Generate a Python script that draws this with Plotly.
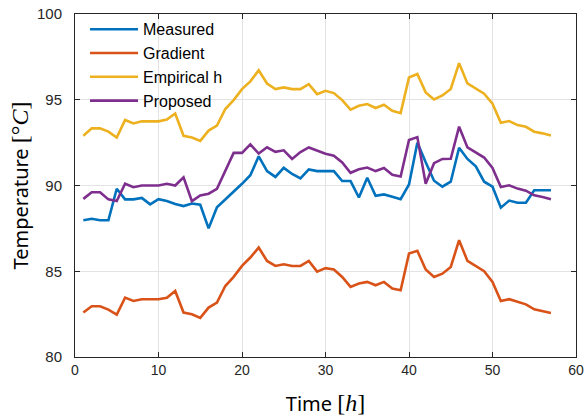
import plotly.graph_objects as go

time_h = list(range(1, 58))

measured = [87.97, 88.06, 87.97, 87.97, 89.81, 89.19, 89.19, 89.28, 88.9, 89.2,
            89.1, 88.92, 88.8, 88.95, 88.88, 87.5, 88.73, 89.17, 89.62, 90.1,
            90.6, 91.7, 90.84, 90.5, 91.03, 90.67, 90.41, 90.94, 90.84, 90.84,
            90.84, 90.26, 90.26, 89.3, 90.45, 89.4, 89.48, 89.35, 89.2, 90.06,
            92.5, 91.35, 90.28, 89.93, 90.22, 92.2, 91.55, 91.12, 90.22, 89.93,
            88.71, 89.12, 88.99, 88.99, 89.72, 89.72, 89.72]

gradient = [82.59, 82.96, 82.96, 82.76, 82.47, 83.46, 83.27, 83.37, 83.37, 83.37,
            83.46, 83.85, 82.59, 82.49, 82.28, 82.88, 83.17, 84.14, 84.67, 85.31,
            85.8, 86.38, 85.6, 85.31, 85.41, 85.31, 85.31, 85.6, 84.98, 85.18,
            85.1, 84.67, 84.09, 84.28, 84.38, 84.18, 84.38, 83.99, 83.89, 86.03,
            86.19, 85.1, 84.67, 84.86, 85.25, 86.81, 85.6, 85.29, 85.0, 84.38,
            83.27, 83.37, 83.21, 83.07, 82.78, 82.68, 82.57]

empirical = [92.9, 93.33, 93.33, 93.14, 92.8, 93.82, 93.62, 93.74, 93.74, 93.74,
             93.84, 94.2, 92.9, 92.8, 92.6, 93.2, 93.49, 94.46, 94.98, 95.62,
             96.07, 96.72, 95.95, 95.62, 95.72, 95.62, 95.62, 95.91, 95.33, 95.52,
             95.39, 94.98, 94.42, 94.65, 94.75, 94.52, 94.71, 94.36, 94.22, 96.3,
             96.5, 95.43, 95.02, 95.25, 95.63, 97.13, 95.95, 95.64, 95.35, 94.77,
             93.66, 93.76, 93.52, 93.42, 93.14, 93.04, 92.92]

proposed = [89.22, 89.61, 89.61, 89.19, 89.09, 90.1, 89.9, 90.0, 90.0, 90.0,
            90.1, 90.0, 90.48, 89.09, 89.42, 89.52, 89.81, 90.83, 91.9, 91.9,
            92.4, 91.86, 92.23, 91.96, 92.05, 91.55, 91.95, 92.22, 92.02, 91.85,
            91.74, 91.34, 90.74, 90.95, 91.05, 90.84, 91.02, 90.62, 90.52, 92.65,
            92.82, 90.1, 91.3, 91.55, 91.56, 93.43, 92.22, 91.94, 91.63, 91.02,
            89.91, 90.01, 89.82, 89.7, 89.43, 89.33, 89.2]

series = [
    ("Measured", measured, "#0072BD"),
    ("Gradient", gradient, "#D95319"),
    ("Empirical h", empirical, "#EDB120"),
    ("Proposed", proposed, "#7E2F8E"),
]

fig = go.Figure()
for name, vals, color in series:
    fig.add_trace(go.Scatter(x=time_h, y=vals, mode="lines", name=name,
                             line=dict(color=color, width=2.6)))

axis_common = dict(
    showgrid=True, gridcolor="#e3e3e3", gridwidth=1,
    showline=True, linecolor="#262626", linewidth=1, mirror="ticks",
    ticks="inside", ticklen=5, tickcolor="#262626", zeroline=False,
)

serif = "font-family:'Liberation Serif';font-size:24px"

fig.update_xaxes(range=[0, 60], dtick=10, tick0=0, **axis_common,
                 tickfont=dict(family="Liberation Sans, Arial", size=14, color="#262626"),
                 title=dict(text=f"Time <span style=\"{serif}\">[<i>h</i>]</span>",
                            font=dict(family="Noto Sans", size=20, color="#000000"),
                            standoff=20))
fig.update_yaxes(range=[80, 100], dtick=5, tick0=80, **axis_common,
                 tickfont=dict(family="Liberation Sans, Arial", size=15, color="#262626"),
                 ticklabelstandoff=9,
                 title=dict(text=f"Temperature <span style=\"{serif}\">[°<i>C</i>]</span>",
                            font=dict(family="Noto Sans", size=20, color="#000000"),
                            standoff=2))

fig.update_layout(
    width=588, height=420,
    margin=dict(l=75, r=12, t=14, b=63, autoexpand=False),
    paper_bgcolor="white", plot_bgcolor="white",
    showlegend=True,
    legend=dict(x=0.02, y=1.005, xanchor="left", yanchor="top",
                bgcolor="rgba(0,0,0,0)", borderwidth=0,
                font=dict(family="Liberation Sans, Arial", size=16, color="#000000"),
                itemwidth=48, tracegroupgap=0),
)

fig.write_html("out.html", config={"displayModeBar": False},
               post_script="document.body.style.margin='0px';document.body.style.overflow='hidden';")
